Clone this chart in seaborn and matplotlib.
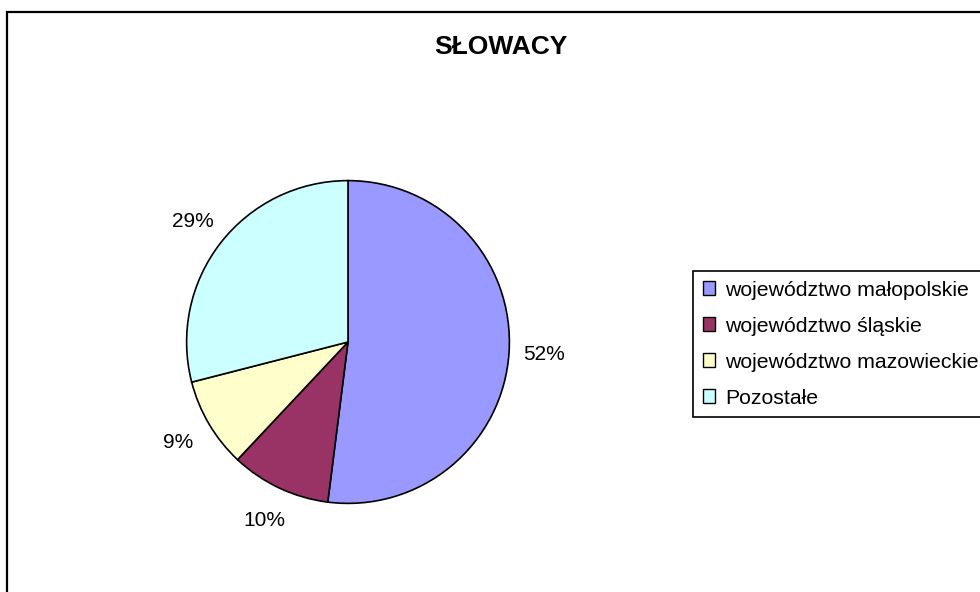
import matplotlib.pyplot as plt
import seaborn as sns
from matplotlib.patches import Rectangle, Patch

# data
categories = ['województwo małopolskie', 'województwo śląskie',
              'województwo mazowieckie', 'Pozostałe']
shares = [52, 10, 9, 29]
colors = ['#9999FF', '#993366', '#FFFFCC', '#CCFFFF']
title = 'SŁOWACY'

sns.set_theme(style='white')
plt.rcParams['font.family'] = ['Liberation Sans', 'DejaVu Sans']
plt.rcParams['text.color'] = 'black'

W, H = 980, 592
fig = plt.figure(figsize=(W / 100, H / 100), dpi=100)
fig.patch.set_facecolor('white')

# outer chart frame (cut off on right and bottom like the reference)
fig.add_artist(Rectangle((7 / W, -0.1), 1.2, 1 - 12 / H + 0.1,
                         transform=fig.transFigure, fill=False,
                         edgecolor='black', linewidth=1.6))

# pie axes: centre (348, 342), radius 163 px
cx, cy, r = 348, 342, 163
ax = fig.add_axes([(cx - r) / W, (H - cy - r) / H, 2 * r / W, 2 * r / H])
wedges, texts, autotexts = ax.pie(
    shares, colors=colors, startangle=90, counterclock=False,
    autopct=lambda p: f'{p:.0f}%', pctdistance=1.22,
    wedgeprops=dict(edgecolor='black', linewidth=1.2),
    textprops=dict(fontsize=15, color='black'))
ax.set_xlim(-1.01, 1.01)
ax.set_ylim(-1.01, 1.01)
ax.axis('off')

fig.text(501 / W, 1 - 47 / H, title, ha='center', va='center',
         fontsize=19, fontweight='bold', color='black')

handles = [Patch(facecolor=c, edgecolor='black', linewidth=1) for c in colors]
leg = fig.legend(handles, categories, loc='upper left',
                 bbox_to_anchor=(693 / W, 1 - 271 / H), fontsize=15.3,
                 frameon=True, fancybox=False, edgecolor='black',
                 framealpha=1, handlelength=0.6, handleheight=0.6,
                 handletextpad=0.45, labelspacing=0.8, borderpad=0.45,
                 borderaxespad=0, labelcolor='black')
leg.get_frame().set_linewidth(1.2)

fig.savefig('out.png', dpi=100)
